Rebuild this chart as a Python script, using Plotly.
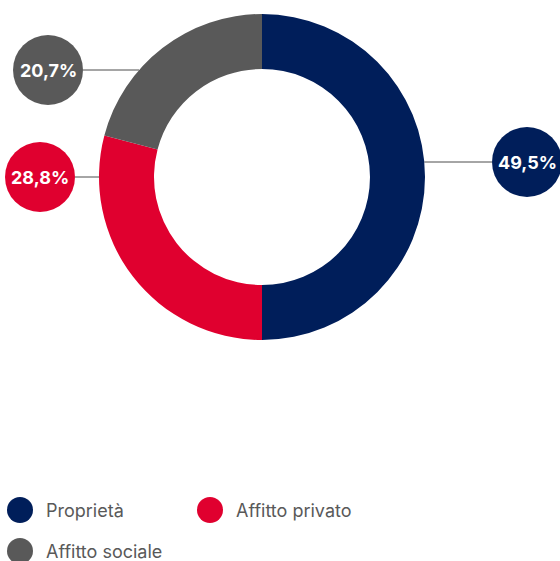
import math
import plotly.graph_objects as go

# Housing tenure shares
categories = ["Proprietà", "Affitto privato", "Affitto sociale"]
values = [49.5, 28.8, 20.7]
colors = ["#001e5a", "#e0002f", "#595959"]

W, H = 560, 561
cx, cy, R, r_in = 262, 177, 163, 108

# Callout bubble centres (pixels) and connector heights
bubbles = [(527, 162), (40, 177), (48, 70)]
bubble_r = 35

def fmt(v):
    return f"{v:.1f}".replace(".", ",") + "%"

fig = go.Figure()
fig.add_trace(go.Pie(
    labels=categories,
    values=values,
    marker=dict(colors=colors, line=dict(width=0)),
    hole=r_in / R,
    sort=False,
    direction="clockwise",
    rotation=0,
    textinfo="none",
    hoverinfo="label+percent",
    showlegend=False,
    domain=dict(x=[(cx - R) / W, (cx + R) / W], y=[1 - (cy + R) / H, 1 - (cy - R) / H]),
))

shapes = []
annotations = []
for (bx, by), v, c in zip(bubbles, values, colors):
    dy = by - cy
    edge = math.sqrt(max(R * R - dy * dy, 0))
    if bx > cx:
        x_start, x_end = cx + edge, bx - bubble_r
    else:
        x_start, x_end = bx + bubble_r, cx - edge
    shapes.append(dict(type="line", xref="x", yref="y", x0=x_start, x1=x_end, y0=by, y1=by,
                       line=dict(color="#4d4d4d", width=1), layer="below"))
    shapes.append(dict(type="circle", xref="x", yref="y", x0=bx - bubble_r, x1=bx + bubble_r,
                       y0=by - bubble_r, y1=by + bubble_r, fillcolor=c, line=dict(width=0)))
    annotations.append(dict(x=bx, y=by, xref="x", yref="y", text=f"<b>{fmt(v)}</b>", showarrow=False,
                            font=dict(family="Inter", size=18, color="white")))

# Legend drawn as dots + labels in two columns
leg_pos = [(20, 510), (210, 510), (20, 551)]
for (lx, ly), name, c in zip(leg_pos, categories, colors):
    shapes.append(dict(type="circle", xref="x", yref="y", x0=lx - 13, x1=lx + 13, y0=ly - 13, y1=ly + 13,
                       fillcolor=c, line=dict(width=0)))
    annotations.append(dict(x=lx + 26, y=ly, xref="x", yref="y", text=name, showarrow=False,
                            xanchor="left", xshift=-2, font=dict(family="Inter", size=18, color="#595959")))

fig.update_layout(
    width=W, height=H,
    margin=dict(l=0, r=0, t=0, b=0),
    paper_bgcolor="white", plot_bgcolor="rgba(0,0,0,0)",
    xaxis=dict(range=[0, W], visible=False, fixedrange=True),
    yaxis=dict(range=[H, 0], visible=False, fixedrange=True),
    shapes=shapes,
    annotations=annotations,
)

fig.write_html("out.html")
